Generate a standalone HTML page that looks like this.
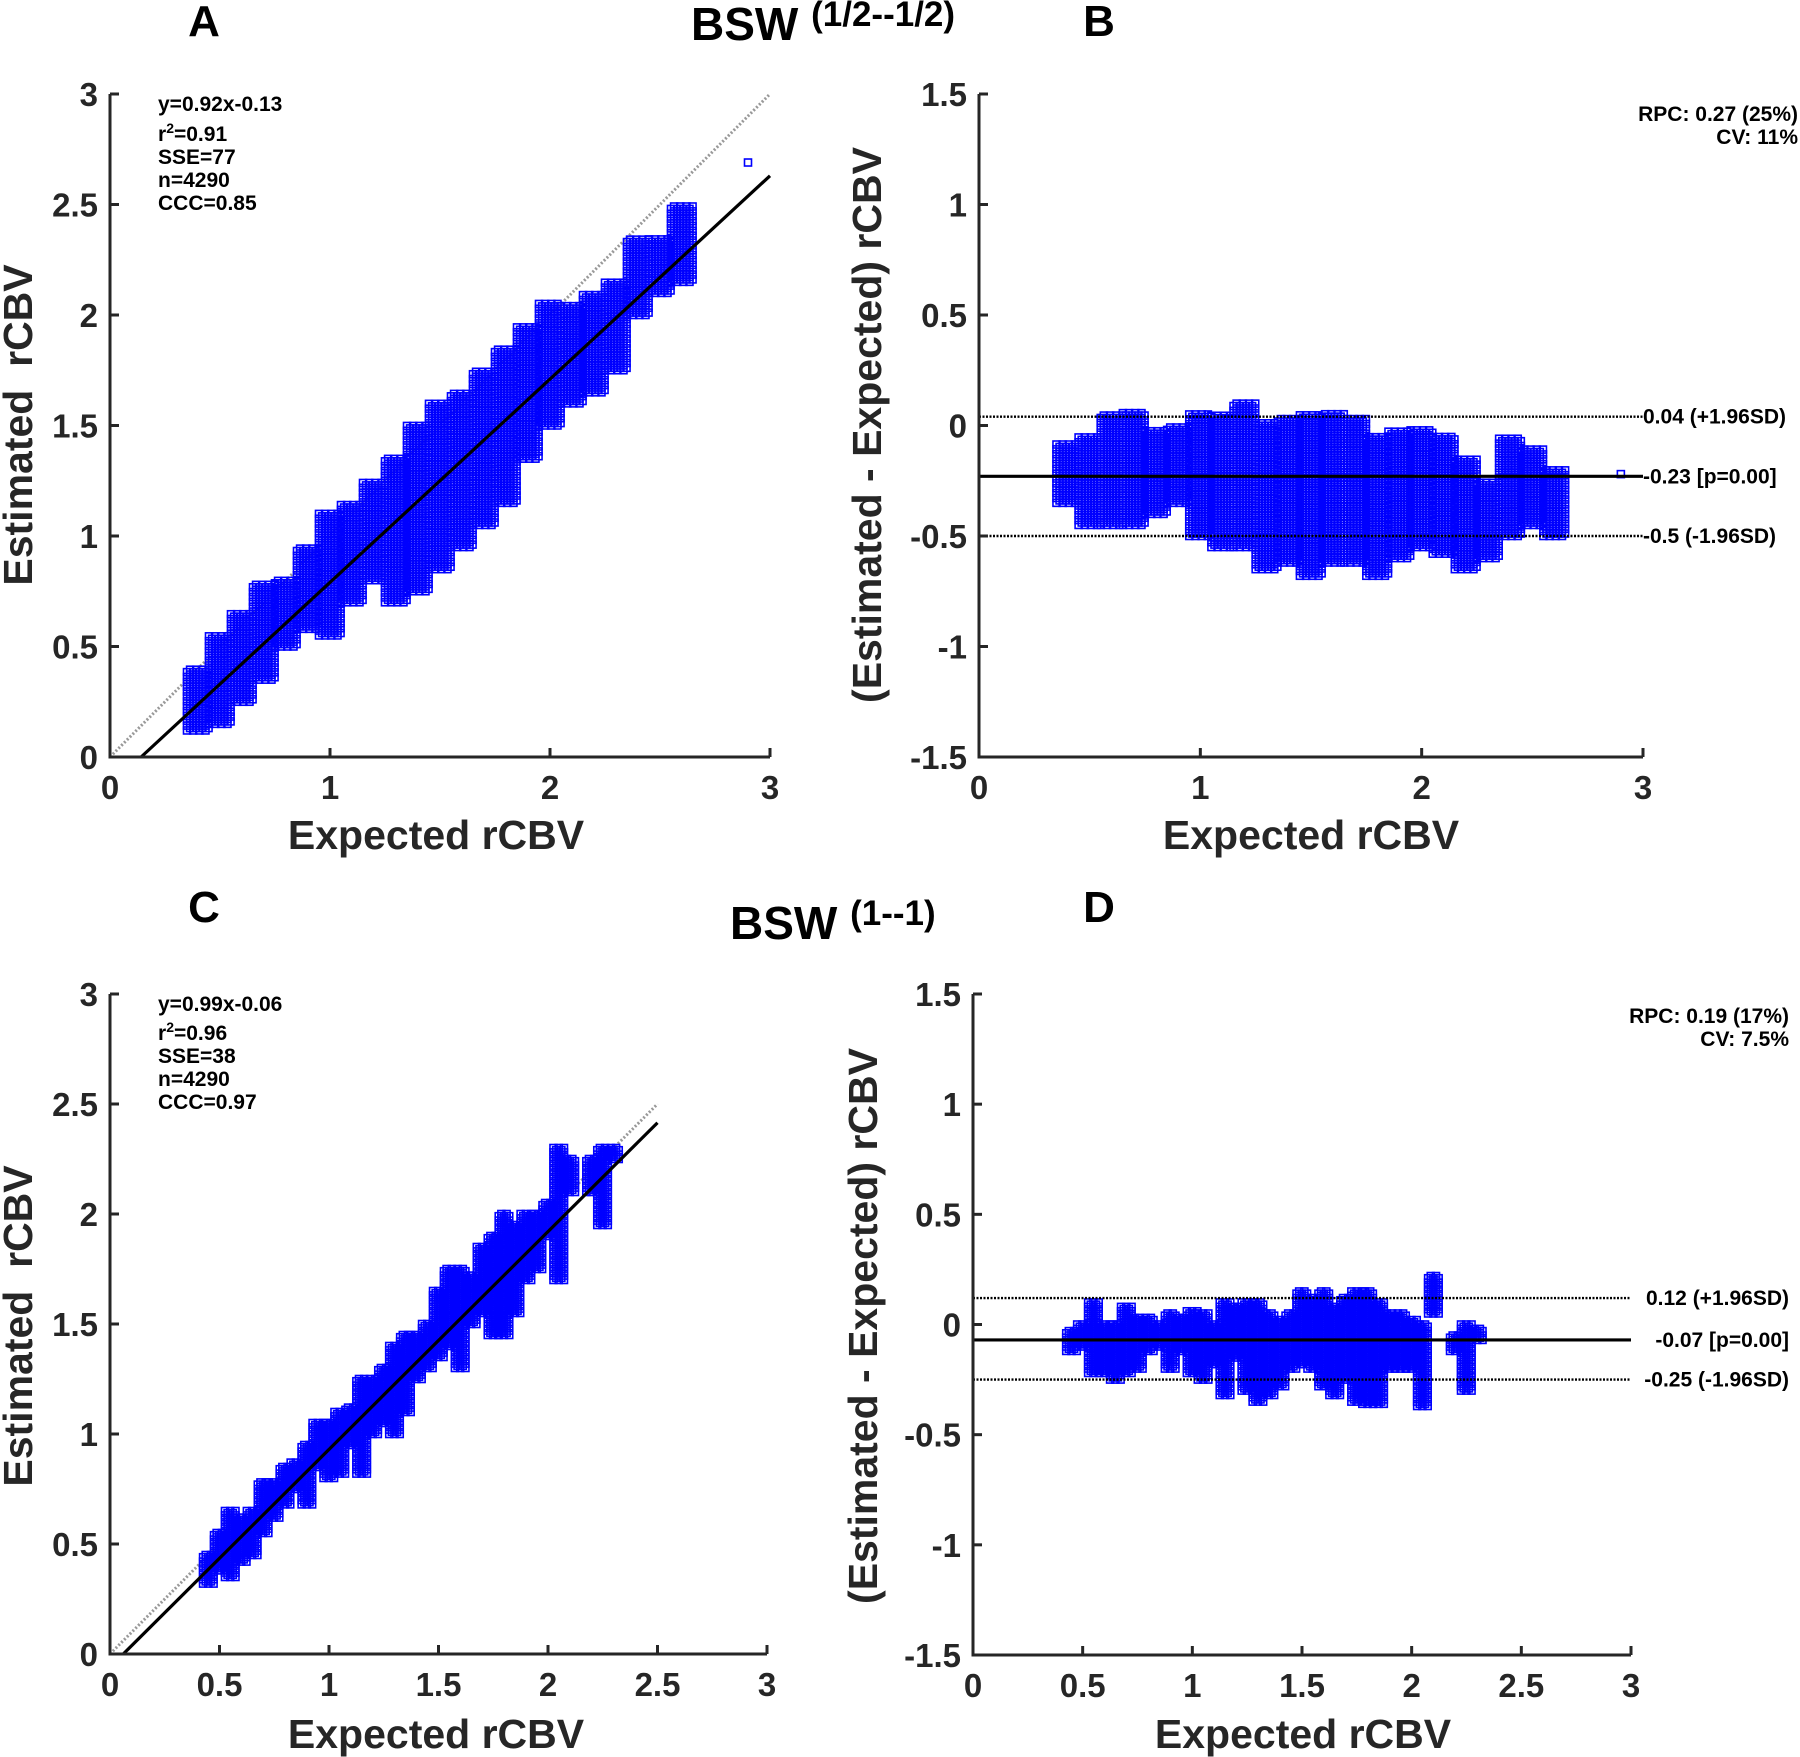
<!DOCTYPE html>
<html><head><meta charset="utf-8">
<style>
html,body{margin:0;padding:0;background:#fff;}
svg{display:block;font-family:"Liberation Sans",Arial,sans-serif;font-weight:bold;}
</style></head>
<body>
<svg id="fig" width="1800" height="1757" viewBox="0 0 1800 1757" xmlns="http://www.w3.org/2000/svg">
  <text x="204" y="36" font-size="44" text-anchor="middle">A</text>
  <text x="1099" y="36" font-size="44" text-anchor="middle">B</text>
  <text x="204" y="922" font-size="44" text-anchor="middle">C</text>
  <text x="1099" y="922" font-size="44" text-anchor="middle">D</text>
  <text x="691" y="40" font-size="46">BSW <tspan font-size="35" dy="-14">(1/2--1/2)</tspan></text>
  <text x="730" y="939" font-size="46">BSW <tspan font-size="35" dy="-14">(1--1)</tspan></text>
</svg>
<script>
// ---- Panel A data (expected bin centers, estimated low/high) ----
const aBinX = [0.4,0.5,0.6,0.7,0.8,0.9,1.0,1.1,1.2,1.3,1.4,1.5,1.6,1.7,1.8,1.9,2.0,2.1,2.2,2.3,2.4,2.5,2.6];
const aLow  = [0.12,0.15,0.25,0.35,0.50,0.58,0.55,0.70,0.80,0.70,0.75,0.85,0.95,1.05,1.15,1.35,1.50,1.60,1.65,1.75,2.00,2.10,2.15];
const aHigh = [0.40,0.55,0.65,0.78,0.80,0.95,1.10,1.15,1.25,1.35,1.50,1.60,1.65,1.75,1.85,1.95,2.05,2.05,2.10,2.15,2.35,2.35,2.50];
const aOutX = [2.9]; const aOutY = [2.69];
// ---- Panel B data (difference low/high) ----
const bBinX = [0.4,0.5,0.6,0.7,0.8,0.9,1.0,1.1,1.2,1.3,1.4,1.5,1.6,1.7,1.8,1.9,2.0,2.1,2.2,2.3,2.4,2.5,2.6];
const bLow  = [-0.35,-0.45,-0.45,-0.45,-0.40,-0.35,-0.50,-0.55,-0.55,-0.65,-0.62,-0.68,-0.62,-0.62,-0.68,-0.60,-0.55,-0.58,-0.65,-0.60,-0.50,-0.45,-0.50];
const bHigh = [-0.08,-0.05,0.05,0.06,-0.02,0.00,0.05,0.05,0.10,0.02,0.03,0.05,0.06,0.03,-0.05,-0.02,-0.02,-0.05,-0.15,-0.25,-0.05,-0.10,-0.20];
const bOutX = [2.9]; const bOutY = [-0.22];
const bRefVals = [0.04,-0.23,-0.5];
const bRefLabels = ["0.04 (+1.96SD)","-0.23 [p=0.00]","-0.5 (-1.96SD)"];
// ---- Panel C data ----
const cBinX = [0.45,0.5,0.55,0.6,0.65,0.7,0.75,0.8,0.85,0.9,0.95,1.0,1.05,1.1,1.15,1.2,1.25,1.3,1.35,1.4,1.45,1.5,1.55,1.6,1.65,1.7,1.75,1.8,1.85,1.9,1.95,2.0,2.05,2.1,2.2,2.25,2.3];
const cLow  = [0.32,0.38,0.35,0.42,0.45,0.55,0.62,0.68,0.75,0.68,0.85,0.80,0.82,0.95,0.82,1.00,1.05,1.00,1.10,1.25,1.30,1.35,1.40,1.30,1.50,1.55,1.45,1.45,1.55,1.70,1.75,1.90,1.70,2.10,2.10,1.95,2.25];
const cHigh = [0.45,0.55,0.65,0.62,0.65,0.78,0.78,0.85,0.87,0.95,1.05,1.05,1.10,1.12,1.25,1.25,1.30,1.40,1.45,1.45,1.50,1.65,1.75,1.75,1.72,1.85,1.90,2.00,1.95,2.00,2.00,2.05,2.30,2.25,2.25,2.30,2.30];
// ---- Panel D data ----
const dBinX = [0.45,0.5,0.55,0.6,0.65,0.7,0.75,0.8,0.85,0.9,0.95,1.0,1.05,1.1,1.15,1.2,1.25,1.3,1.35,1.4,1.45,1.5,1.55,1.6,1.65,1.7,1.75,1.8,1.85,1.9,1.95,2.0,2.05,2.1,2.2,2.25,2.3];
const dLow  = [-0.12,-0.10,-0.22,-0.22,-0.25,-0.22,-0.20,-0.12,-0.10,-0.20,-0.12,-0.22,-0.25,-0.18,-0.32,-0.15,-0.30,-0.35,-0.32,-0.28,-0.20,-0.18,-0.20,-0.28,-0.32,-0.25,-0.35,-0.36,-0.36,-0.20,-0.20,-0.20,-0.37,0.05,-0.12,-0.30,-0.07];
const dHigh = [-0.03,0.00,0.10,0.00,0.00,0.08,0.03,0.03,0.00,0.05,0.03,0.06,0.05,0.00,0.10,0.08,0.10,0.10,0.05,0.02,0.05,0.15,0.12,0.15,0.08,0.12,0.15,0.15,0.10,0.05,0.05,0.02,0.00,0.22,-0.05,0.00,-0.02];
const dRefVals = [0.12,-0.07,-0.25];
const dRefLabels = ["0.12 (+1.96SD)","-0.07 [p=0.00]","-0.25 (-1.96SD)"];
// ---- tick labels ----
const ticksAB_X = ["0","1","2","3"];
const ticksCD_X = ["0","0.5","1","1.5","2","2.5","3"];
const ticksEst = ["0","0.5","1","1.5","2","2.5","3"];
const ticksDiff = ["-1.5","-1","-0.5","0","0.5","1","1.5"];

const NS = "http://www.w3.org/2000/svg";
const svg = document.getElementById('fig');
function mk(tag, attrs, parent){const e=document.createElementNS(NS,tag);for(const k in attrs)e.setAttribute(k,attrs[k]);(parent||svg).appendChild(e);return e;}

function panel(p){
  const g = mk('g',{});
  
  
  const sx = v => p.x0 + (v - p.xmin)/(p.xmax-p.xmin)*(p.x1-p.x0);
  const sy = v => p.y0 - (v - p.ymin)/(p.ymax-p.ymin)*(p.y0-p.y1);
  if (p.identity){
    const l = mk('line',{x1:sx(0),y1:sy(0),x2:sx(p.identity),y2:sy(p.identity),stroke:'#999','stroke-width':3,'stroke-dasharray':'2 2'},g);
    
    
  }
  const pg = mk('g',{fill:'none',stroke:'#0000ff','stroke-width':1.6},g);
  
  
  const hw = p.bw/2;
  for (let i=0;i<p.bx.length;i++){
    let col = 0;
    for (let xv=p.bx[i]-hw; xv<p.bx[i]+hw-1e-9; xv+=p.dx, col++){
      const off = (col%2) ? p.dy/2 : 0;
      for (let yv=p.lo[i]+off; yv<=p.hi[i]+1e-9; yv+=p.dy){
        mk('rect',{x:sx(xv)-3.5,y:sy(yv)-3.5,width:7,height:7},pg);
      }
    }
  }
  (p.ox||[]).forEach((xv,i)=>{mk('rect',{x:sx(xv)-3.5,y:sy(p.oy[i])-3.5,width:7,height:7},pg);});
  if (p.fit){
    const xs = Math.max(p.xmin, -p.fit[1]/p.fit[0]);
    const l = mk('line',{x1:sx(xs),y1:sy(p.fit[0]*xs+p.fit[1]),x2:sx(p.fitEnd),y2:sy(p.fit[0]*p.fitEnd+p.fit[1]),stroke:'#000','stroke-width':3.2},g);
    
    
  }
  if (p.refs){
    p.refs.forEach((v,i)=>{
      const l = mk('line',{x1:p.x0,y1:sy(v),x2:p.x1,y2:sy(v),stroke:'#000','stroke-width':i==1?3.2:2.4,'stroke-dasharray':i==1?'none':'2 1.5'},g);
      
      
      const t = mk('text',{x:p.refAnchor=='end'?1789:p.x1,y:sy(v)+7,'font-size':21,'text-anchor':p.refAnchor},g);
      t.textContent = p.refLabels[i];
      
      
    });
  }
  const ax = mk('path',{d:`M${p.x0},${p.y1} L${p.x0},${p.y0} L${p.x1},${p.y0}`,fill:'none',stroke:'#262626','stroke-width':3},g);
  
  
  p.xt.forEach((s)=>{
    const v=parseFloat(s), X=sx(v);
    mk('line',{x1:X,y1:p.y0,x2:X,y2:p.y0-9,stroke:'#262626','stroke-width':3},g);
    const t=mk('text',{x:X,y:p.y0+42,'font-size':33,'text-anchor':'middle',fill:'#262626'},g);
    t.textContent=s;
    
    
  });
  p.yt.forEach((s)=>{
    const v=parseFloat(s), Y=sy(v);
    mk('line',{x1:p.x0,y1:Y,x2:p.x0+9,y2:Y,stroke:'#262626','stroke-width':3},g);
    const t=mk('text',{x:p.x0-12,y:Y+12,'font-size':33,'text-anchor':'end',fill:'#262626'},g);
    t.textContent=s;
    
    
  });
  const xl=mk('text',{x:p.xlx,y:p.xly,'font-size':41,'text-anchor':'middle',fill:'#262626'},g);
  xl.textContent='Expected rCBV';
  
  
  const yl=mk('text',{x:0,y:0,'font-size':41,'text-anchor':'middle',fill:'#262626',transform:`translate(${p.ylx},${p.yly}) rotate(-90)`},g);
  yl.style.whiteSpace='pre';
  yl.textContent=p.ylabel;
  
  
  p.notes.forEach((n)=>{
    const t=mk('text',{x:n[0],y:n[1],'font-size':21,'text-anchor':n[3]||'start'},g);
    if (n[2].indexOf('^2')>=0){ t.textContent='r'; const ts=mk('tspan',{dy:-8,'font-size':14},t); ts.textContent='2'; const t2=mk('tspan',{dy:8},t); t2.textContent=n[2].split('^2')[1]; }
    else t.textContent=n[2];
    
    
  });
}

panel({name:'panel-a-scatter',x0:110,x1:770,y0:757,y1:94,xmin:0,xmax:3,ymin:0,ymax:3,bx:aBinX,lo:aLow,hi:aHigh,bw:0.1,dx:0.014,dy:0.022,ox:aOutX,oy:aOutY,
  identity:3,fit:[0.92,-0.13],fitEnd:3,xt:ticksAB_X,yt:ticksEst,xlx:436,xly:849,ylx:32,yly:425,ylabel:'Estimated  rCBV',
  notes:[[158,111,'y=0.92x-0.13'],[158,141,'r^2=0.91'],[158,164,'SSE=77'],[158,187,'n=4290'],[158,210,'CCC=0.85']]});
panel({name:'panel-b-bland-altman',x0:979,x1:1643,y0:757,y1:94,xmin:0,xmax:3,ymin:-1.5,ymax:1.5,bx:bBinX,lo:bLow,hi:bHigh,bw:0.1,dx:0.014,dy:0.022,ox:bOutX,oy:bOutY,
  refs:bRefVals,refLabels:bRefLabels,refAnchor:'start',xt:ticksAB_X,yt:ticksDiff,xlx:1311,xly:849,ylx:881,yly:425,ylabel:'(Estimated - Expected) rCBV',
  notes:[[1798,121,'RPC: 0.27 (25%)','end'],[1798,144,'CV: 11%','end']]});
panel({name:'panel-c-scatter',x0:110,x1:767,y0:1654,y1:994,xmin:0,xmax:3,ymin:0,ymax:3,bx:cBinX,lo:cLow,hi:cHigh,bw:0.05,dx:0.012,dy:0.02,
  identity:2.5,fit:[0.99,-0.06],fitEnd:2.5,xt:ticksCD_X,yt:ticksEst,xlx:436,xly:1748,ylx:32,yly:1326,ylabel:'Estimated  rCBV',
  notes:[[158,1011,'y=0.99x-0.06'],[158,1040,'r^2=0.96'],[158,1063,'SSE=38'],[158,1086,'n=4290'],[158,1109,'CCC=0.97']]});
panel({name:'panel-d-bland-altman',x0:973,x1:1631,y0:1655,y1:994,xmin:0,xmax:3,ymin:-1.5,ymax:1.5,bx:dBinX,lo:dLow,hi:dHigh,bw:0.05,dx:0.012,dy:0.02,
  refs:dRefVals,refLabels:dRefLabels,refAnchor:'end',xt:ticksCD_X,yt:ticksDiff,xlx:1303,xly:1748,ylx:877,yly:1326,ylabel:'(Estimated - Expected) rCBV',
  notes:[[1789,1023,'RPC: 0.19 (17%)','end'],[1789,1046,'CV: 7.5%','end']]});
</script>
</body></html>
